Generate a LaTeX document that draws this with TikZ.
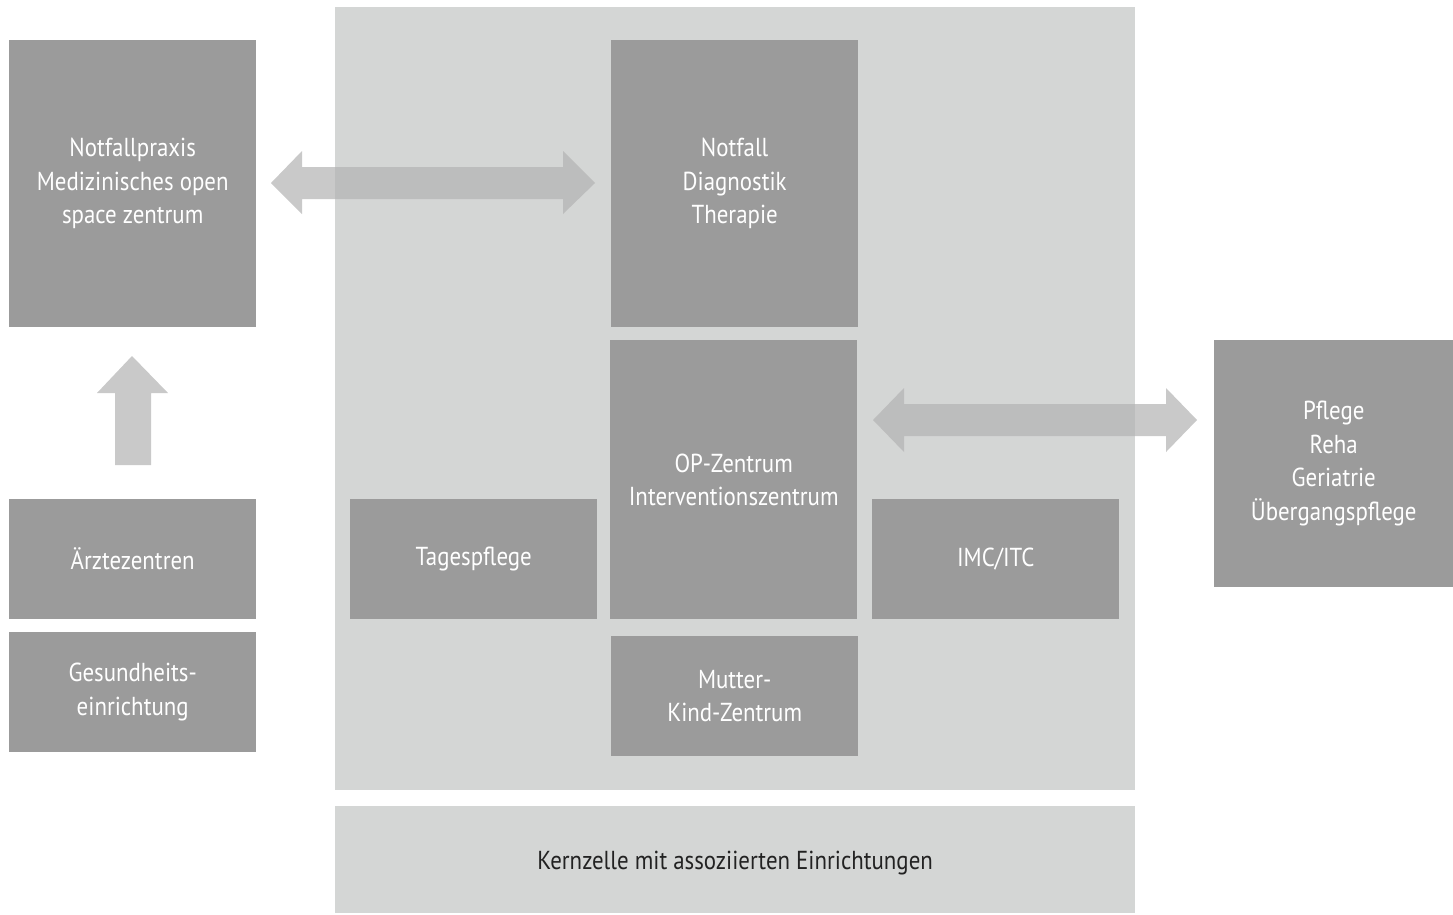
\documentclass[tikz,border=0pt]{standalone}
\usepackage{fontspec}
\setmainfont[FakeStretch=0.88]{PT Sans}
\definecolor{bglight}{HTML}{D4D6D5}
\definecolor{boxdark}{HTML}{9B9B9B}
\definecolor{arrowgray}{HTML}{B4B4B4}
\definecolor{textdark}{HTML}{222222}
\tikzset{
  darkbox/.style={fill=boxdark, text=white, align=center, inner sep=0pt, anchor=north west,
    font=\fontsize{26}{33.5}\selectfont},
  lightbox/.style={fill=bglight, inner sep=0pt, anchor=north west},
  bigarrow/.style={fill=arrowgray, fill opacity=0.72, draw=none}
}
\begin{document}
\begin{tikzpicture}[x=1pt,y=-1pt]
\useasboundingbox (0,0) rectangle (1453,914);
% background boxes
\node[lightbox, minimum width=800pt, minimum height=783pt] (core) at (335,7) {};
\node[lightbox, minimum width=800pt, minimum height=107pt] (legend) at (335,806) {};
\node[text=textdark, font=\fontsize{26}{33.5}\selectfont, inner sep=0pt] (legendtext) at ([yshift=-3pt]legend.center) {Kernzelle mit assoziierten Einrichtungen};
% dark boxes
\node[darkbox, minimum width=247pt, minimum height=287pt] (praxis) at (9,40) {Notfallpraxis\\Medizinisches open\\space zentrum};
\node[darkbox, minimum width=247pt, minimum height=120pt] (aerzte) at (9,499) {Ärztezentren};
\node[darkbox, minimum width=247pt, minimum height=120pt] (gesund) at (9,632) {Gesundheits-\\einrichtung};
\node[darkbox, minimum width=247pt, minimum height=287pt] (notfall) at (611,40) {Notfall\\Diagnostik\\Therapie};
\node[darkbox, minimum width=247pt, minimum height=279pt] (op) at (610,340) {OP-Zentrum\\Interventionszentrum};
\node[darkbox, minimum width=247pt, minimum height=120pt] (tages) at (350,499) {Tagespflege};
\node[darkbox, minimum width=247pt, minimum height=120pt] (imc) at (872,499) {IMC/ITC};
\node[darkbox, minimum width=247pt, minimum height=120pt] (mutter) at (611,636) {Mutter-\\Kind-Zentrum};
\node[darkbox, minimum width=239pt, minimum height=247pt] (pflege) at (1214,340) {Pflege\\Reha\\Geriatrie\\Übergangspflege};
% arrows
\path[bigarrow] (271,183) -- (302,151) -- (302,167) -- (563,167) -- (563,151) -- (595,183)
  -- (563,214) -- (563,199) -- (302,199) -- (302,214) -- cycle;
\path[bigarrow] (873,420) -- (904,388) -- (904,404) -- (1166,404) -- (1166,388) -- (1197,420)
  -- (1166,452) -- (1166,436) -- (904,436) -- (904,452) -- cycle;
\path[bigarrow] (132,356) -- (168,393) -- (151,393) -- (151,465) -- (115,465) -- (115,393) -- (97,393) -- cycle;
\end{tikzpicture}
\end{document}
